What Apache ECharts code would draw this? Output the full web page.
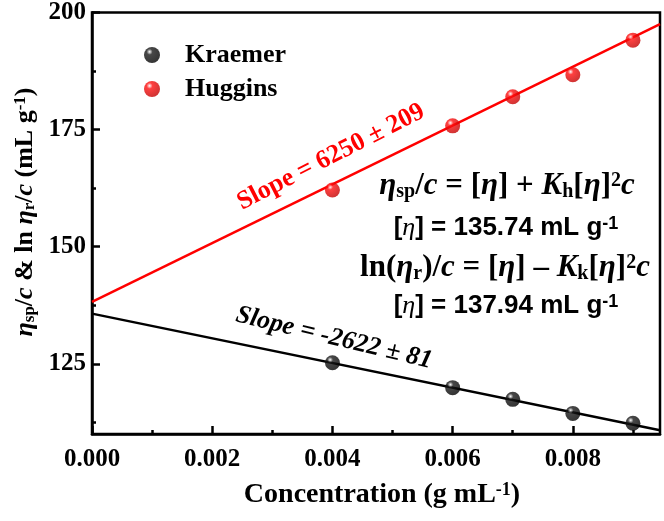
<!DOCTYPE html>
<html><head><meta charset="utf-8">
<script src="https://cdn.jsdelivr.net/npm/echarts@6/dist/echarts.min.js"></script>
<style>html,body{margin:0;padding:0;background:#fff}#c{width:664px;height:521px}</style>
</head><body><div id="c"></div>
<script>
// Data
const concX = [0.004, 0.006, 0.007, 0.008, 0.009];
const kraemerY = [125.2, 119.9, 117.4, 114.4, 112.3];
const hugginsY = [162.1, 175.8, 182.0, 186.7, 194.1];
const fitX = [0, 0.00945];
const kraemerFitY = [135.7, 110.8];
const hugginsFitY = [138.2, 197.5];
const xTicks = [0, 0.002, 0.004, 0.006, 0.008];
const xMinorTicks = [0.001, 0.003, 0.005, 0.007, 0.009];
const yTicks = [125, 150, 175, 200];
const yMinorTicks = [112.5, 137.5, 162.5, 187.5];

const SERIF = '"Liberation Serif", "DejaVu Serif", serif';
const SANS = '"Liberation Sans", Arial, sans-serif';

function sphere(c, dark) {
  return {type: 'radial', x: 0.35, y: 0.3, r: 0.75,
    colorStops: [{offset: 0, color: '#ffffff'}, {offset: 0.25, color: c}, {offset: 1, color: dark}]};
}

function richSet(size, color) {
  const base = {fontFamily: SERIF, fontWeight: 'bold', color: color, fontSize: size};
  return {
    n: Object.assign({}, base),
    i: Object.assign({}, base, {fontStyle: 'italic'}),
    sub: Object.assign({}, base, {fontSize: Math.round(size * 0.65), verticalAlign: 'bottom'}),
    sup: Object.assign({}, base, {fontSize: Math.round(size * 0.65), verticalAlign: 'top'}),
    a: Object.assign({}, base, {fontFamily: SANS}),
    asup: Object.assign({}, base, {fontFamily: SANS, fontSize: Math.round(size * 0.7), verticalAlign: 'top'}),
    ai: Object.assign({}, base, {fontFamily: SERIF, fontStyle: 'italic', fontWeight: 'normal'})
  };
}

const chart = echarts.init(document.getElementById('c'));
const tickLabel = {fontFamily: SERIF, fontWeight: 'bold', fontSize: 25, color: '#000'};
const axisLine = {show: true, lineStyle: {color: '#000', width: 2.5}};

chart.setOption({
  animation: false,
  grid: {left: 92, right: 4, top: 12, bottom: 87, show: true, borderColor: '#000', borderWidth: 2.5},
  legend: {
    orient: 'vertical', left: 139, top: 37, itemGap: 8, itemWidth: 16, itemHeight: 16,
    icon: 'circle',
    data: ['Kraemer', 'Huggins'],
    textStyle: {fontFamily: SERIF, fontWeight: 'bold', fontSize: 26, color: '#000', padding: [0, 0, 0, 20]}
  },
  xAxis: [{
    type: 'value', min: 0, max: 0.00945, interval: 0.002,
    axisLine: axisLine, splitLine: {show: false},
    axisTick: {show: true, inside: true, length: 8, lineStyle: {width: 2.5, color: '#000'}, customValues: xTicks},
    axisLabel: Object.assign({margin: 13, customValues: xTicks, formatter: v => v.toFixed(3)}, tickLabel)
  }, {
    type: 'value', min: 0, max: 0.00945, position: 'bottom',
    axisLine: {show: false}, splitLine: {show: false},
    axisTick: {show: true, inside: true, length: 4, lineStyle: {width: 2.5, color: '#000'}, customValues: xMinorTicks},
    axisLabel: {show: false}
  }],
  yAxis: [{
    type: 'value', min: 110, max: 200,
    axisLine: axisLine, splitLine: {show: false},
    axisTick: {show: true, inside: true, length: 8, lineStyle: {width: 2.5, color: '#000'}, customValues: yTicks},
    axisLabel: Object.assign({margin: 6, customValues: yTicks}, tickLabel)
  }, {
    type: 'value', min: 110, max: 200, position: 'left',
    axisLine: {show: false}, splitLine: {show: false},
    axisTick: {show: true, inside: true, length: 4, lineStyle: {width: 2.5, color: '#000'}, customValues: yMinorTicks},
    axisLabel: {show: false}
  }],
  series: [
    {name: 'KraemerFit', type: 'line', data: fitX.map((x, i) => [x, kraemerFitY[i]]), symbol: 'none',
      lineStyle: {color: '#000', width: 2.5}, z: 2},
    {name: 'HugginsFit', type: 'line', data: fitX.map((x, i) => [x, hugginsFitY[i]]), symbol: 'none',
      lineStyle: {color: '#ff0000', width: 2.5}, z: 2},
    {name: 'Kraemer', type: 'scatter', data: concX.map((x, i) => [x, kraemerY[i]]), symbolSize: 15,
      itemStyle: {color: sphere('#1a1a1a', '#000')}, z: 3},
    {name: 'Huggins', type: 'scatter', data: concX.map((x, i) => [x, hugginsY[i]]), symbolSize: 15,
      itemStyle: {color: sphere('#ff1010', '#c00000')}, z: 3}
  ],
  graphic: [
    {type: 'text', x: 25, y: 212, rotation: Math.PI / 2, style: {
      text: '{i|η}{sub|sp}{n|/}{i|c}{n| & ln }{i|η}{sub|r}{n|/}{i|c}{n| (mL g}{sup|-1}{n|)}',
      rich: richSet(26, '#000'), align: 'center', verticalAlign: 'middle'}},
    {type: 'text', x: 382, y: 495, style: {
      text: '{n|Concentration (g mL}{sup|-1}{n|)}',
      rich: richSet(28, '#000'), align: 'center', verticalAlign: 'middle'}},
    {type: 'text', x: 331, y: 157, rotation: 27 * Math.PI / 180, style: {
      text: 'Slope = 6250 ± 209', fill: '#ff0000', fontFamily: SERIF, fontWeight: 'bold', fontSize: 26,
      align: 'center', verticalAlign: 'middle'}},
    {type: 'text', x: 334, y: 338, rotation: -13.5 * Math.PI / 180, style: {
      text: 'Slope = -2622 ± 81', fill: '#000', fontFamily: SERIF, fontWeight: 'bold', fontStyle: 'italic', fontSize: 26,
      align: 'center', verticalAlign: 'middle'}},
    {type: 'text', x: 507, y: 186, style: {
      text: '{i|η}{sub|sp}{n|/}{i|c}{n| = [}{i|η}{n|] + }{i|K}{sub|h}{n|[}{i|η}{n|]}{sup|2}{i|c}',
      rich: richSet(31, '#ff0000'), align: 'center', verticalAlign: 'middle'}},
    {type: 'text', x: 506, y: 228, style: {
      text: '{a|[}{ai|η}{a|] = 135.74 mL g}{asup|-1}',
      rich: richSet(26, '#ff0000'), align: 'center', verticalAlign: 'middle'}},
    {type: 'text', x: 505, y: 268, style: {
      text: '{n|ln(}{i|η}{sub|r}{n|)/}{i|c}{n| = [}{i|η}{n|] – }{i|K}{sub|k}{n|[}{i|η}{n|]}{sup|2}{i|c}',
      rich: richSet(31, '#000'), align: 'center', verticalAlign: 'middle'}},
    {type: 'text', x: 506, y: 306, style: {
      text: '{a|[}{ai|η}{a|] = 137.94 mL g}{asup|-1}',
      rich: richSet(26, '#000'), align: 'center', verticalAlign: 'middle'}}
  ]
});
</script>
</body></html>
